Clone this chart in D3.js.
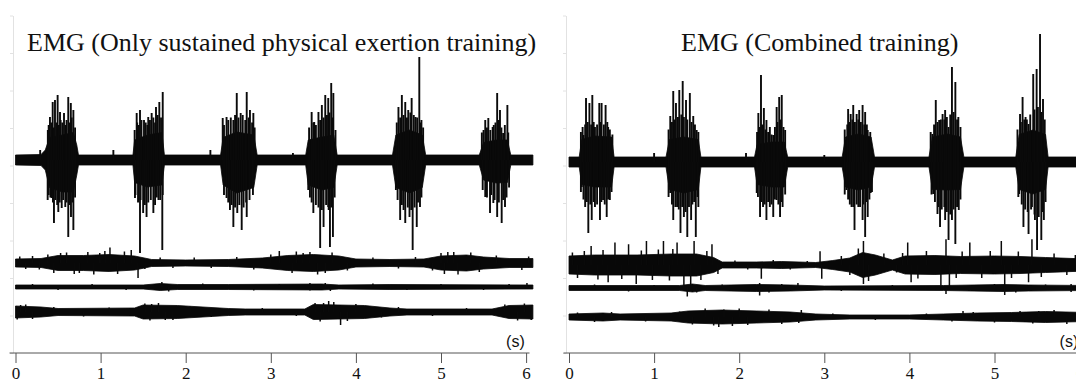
<!DOCTYPE html>
<html>
<head>
<meta charset="utf-8">
<script src="https://cdn.jsdelivr.net/npm/d3@7"></script>
<style>
  body { margin: 0; background: #fff; }
  svg { display: block; }
</style>
</head>
<body>
<svg id="chart" width="1076" height="383"></svg>
<script>
// time axis (s)
const timeTicks = [0, 1, 2, 3, 4, 5, 6];
const titles = ["EMG (Only sustained physical exertion training)", "EMG (Combined training)"];

// channel baselines (uV on the shared amplitude scale)
const leftOffsets = [772, 360, 264, 164];
const rightOffsets = [764, 352, 260, 144];

// ---- left panel ----
// main channel envelope: [t, up, down]
const leftEnv1 = [[0,20,20],[0.3,22,22],[0.35,40,40],[0.40,90,110],[0.55,100,128],[0.68,110,128],[0.72,60,60],[0.74,20,20],
  [1.38,20,20],[1.40,80,90],[1.55,100,108],[1.72,110,100],[1.75,20,20],
  [2.41,20,20],[2.44,90,100],[2.6,112,132],[2.8,100,110],[2.84,20,20],
  [3.41,20,20],[3.44,80,100],[3.6,92,120],[3.74,100,110],[3.78,20,20],
  [4.43,20,20],[4.47,100,110],[4.63,120,132],[4.78,100,110],[4.82,20,20],
  [5.45,20,20],[5.5,70,80],[5.65,80,92],[5.78,80,90],[5.82,20,20],[6.08,20,20]];
// spikes: [t, amplitude] (+ up, - down)
const leftSpikes1 = [[0.29,40],[1.15,40],[2.29,40],[3.26,28],
  [0.405,172],[0.437,232],[0.464,240],[0.495,260],[0.523,192],[0.57,188],[0.62,252],[0.65,228],[0.68,200],
  [0.378,-160],[0.425,-152],[0.452,-252],[0.503,-208],[0.543,-192],[0.585,-188],[0.62,-308],[0.652,-228],[0.68,-280],
  [0.38,120],[0.39,140],[0.42,150],[0.45,130],[0.48,150],[0.51,140],[0.53,160],[0.55,150],[0.59,140],[0.6,160],[0.63,150],[0.66,170],[0.70,130],
  [0.39,-140],[0.41,-150],[0.44,-170],[0.47,-160],[0.49,-180],[0.52,-170],[0.56,-160],[0.6,-170],[0.64,-180],[0.67,-170],[0.7,-150],
  [1.424,188],[1.463,200],[1.51,160],[1.56,172],[1.60,188],[1.651,212],[1.69,232],[1.73,272],
  [1.404,-152],[1.463,-372],[1.50,-212],[1.54,-228],[1.62,-212],[1.68,-160],[1.725,-360],
  [1.40,120],[1.43,150],[1.45,140],[1.48,160],[1.53,150],[1.55,140],[1.58,160],[1.62,170],[1.64,150],[1.67,180],[1.71,170],
  [1.41,-140],[1.44,-170],[1.47,-160],[1.52,-180],[1.56,-170],[1.59,-160],[1.64,-180],[1.66,-150],[1.7,-160],[1.73,-140],
  [2.435,168],[2.48,172],[2.60,268],[2.646,188],[2.717,272],[2.755,200],[2.795,188],
  [2.48,-152],[2.52,-200],[2.56,-268],[2.606,-212],[2.658,-280],[2.717,-228],
  [2.45,140],[2.5,160],[2.53,170],[2.56,160],[2.58,180],[2.62,170],[2.67,180],[2.7,160],[2.74,170],[2.78,150],[2.81,130],
  [2.45,-140],[2.5,-170],[2.54,-180],[2.58,-190],[2.63,-180],[2.68,-190],[2.71,-170],[2.75,-160],[2.79,-140],
  [3.48,192],[3.51,152],[3.56,192],[3.60,220],[3.64,260],[3.675,248],[3.71,308],[3.735,268],
  [3.44,-120],[3.50,-212],[3.58,-352],[3.62,-268],[3.675,-188],[3.695,-348],[3.73,-308],
  [3.45,130],[3.5,150],[3.53,140],[3.58,160],[3.62,170],[3.66,180],[3.69,190],[3.73,170],[3.76,120],
  [3.46,-150],[3.48,-170],[3.53,-180],[3.56,-190],[3.6,-200],[3.65,-180],[3.68,-200],[3.71,-190],[3.75,-150],
  [4.50,212],[4.54,260],[4.58,232],[4.615,200],[4.655,248],[4.70,172],[4.745,412],[4.77,160],
  [4.47,-120],[4.52,-240],[4.58,-252],[4.63,-228],[4.667,-360],[4.715,-268],[4.753,-188],
  [4.48,150],[4.52,170],[4.56,180],[4.6,170],[4.64,190],[4.68,180],[4.72,170],[4.76,150],[4.79,130],
  [4.49,-160],[4.54,-180],[4.56,-200],[4.61,-190],[4.65,-200],[4.69,-190],[4.73,-170],[4.77,-150],
  [5.52,160],[5.556,168],[5.607,132],[5.66,268],[5.693,200],[5.73,108],[5.78,220],
  [5.52,-148],[5.576,-212],[5.615,-172],[5.66,-228],[5.713,-252],[5.752,-188],
  [5.48,110],[5.5,120],[5.54,130],[5.58,120],[5.62,140],[5.64,150],[5.68,160],[5.71,130],[5.75,140],[5.79,110],
  [5.49,-120],[5.54,-150],[5.59,-140],[5.63,-160],[5.68,-170],[5.73,-160],[5.77,-150],[5.8,-110]];
// other channels: envelope [t, half width]
const leftEnv2 = [[0,16],[0.3,18],[0.5,30],[0.8,30],[1.1,34],[1.4,28],[1.6,14],[2.0,12],[2.5,14],[2.9,20],[3.2,30],[3.5,34],
  [3.8,28],[4.0,16],[4.4,14],[4.8,16],[5.0,28],[5.3,32],[5.5,24],[5.8,18],[6.08,18]];
const leftSpikes2 = [[0.53,40],[0.69,-44],[0.99,40],[1.11,62],[1.36,52],[1.44,-60],[3.10,48],[3.38,40],[3.46,44],
  [3.64,-40],[5.0,40],[5.04,-44],[5.08,44],
  [0.05,26],[0.12,-24],[0.2,28],[0.28,-26],[0.38,34],[0.45,-40],[0.6,42],[0.75,-40],[0.85,44],[0.92,-46],[1.05,48],
  [1.2,-44],[1.28,46],[1.52,-24],[1.7,22],[1.85,-20],[2.1,22],[2.3,-20],[2.6,24],[2.8,-26],[3.0,34],[3.25,-40],
  [3.3,46],[3.55,-46],[3.72,42],[3.9,-30],[4.2,22],[4.5,-22],[4.7,24],[4.9,-30],[5.15,44],[5.2,-46],[5.35,42],
  [5.45,-36],[5.65,30],[5.95,-28],[6.03,26]];
const leftEnv3 = [[0,8],[1.5,8],[1.7,14],[1.9,10],[2.5,10],[3.6,12],[3.8,8],[4.4,10],[6.08,8]];
const leftSpikes3 = [[1.72,20],[3.46,16],[3.46,-14],[3.64,16],[6.01,16],
  [0.2,12],[0.5,-12],[0.9,12],[1.3,-12],[1.8,-18],[2.2,14],[2.8,-14],[3.1,12],[3.7,-16],[4.2,14],[4.6,-12],
  [5.0,12],[5.5,-12],[5.8,12]];
const leftEnv4 = [[0,24],[0.3,20],[0.5,14],[1.4,16],[1.5,28],[1.9,26],[2.5,14],[2.7,12],[3.4,12],[3.5,30],[4.1,26],
  [4.4,16],[4.6,12],[5.6,12],[5.8,26],[6.08,28]];
const leftSpikes4 = [[0.06,28],[1.6,32],[1.76,-32],[3.62,36],[3.74,40],[3.82,-52],
  [0.02,-30],[0.12,30],[0.2,-28],[0.45,20],[0.8,-18],[1.1,18],[1.52,34],[1.58,-34],[1.68,36],[1.85,-32],[2.05,22],
  [2.3,-20],[2.9,16],[3.3,-16],[3.52,36],[3.58,-38],[3.68,44],[3.9,-36],[4.0,32],[4.3,-22],[4.5,20],[4.9,-16],
  [5.3,16],[5.75,30],[5.9,-34],[5.98,34],[6.06,-32]];

// ---- right panel ----
const rightEnv1 = [[0,20,20],[0.12,20,20],[0.15,90,90],[0.3,104,100],[0.5,100,100],[0.53,20,20],
  [1.14,20,20],[1.18,90,110],[1.35,100,124],[1.52,90,110],[1.55,20,20],
  [2.18,20,20],[2.21,70,90],[2.38,80,100],[2.53,80,100],[2.57,20,20],
  [3.21,20,20],[3.25,100,100],[3.4,112,112],[3.55,100,100],[3.59,20,20],
  [4.23,20,20],[4.27,100,110],[4.45,112,112],[4.6,100,110],[4.64,20,20],
  [5.25,20,20],[5.29,110,110],[5.45,128,128],[5.6,110,110],[5.63,20,20],[6.08,20,20]];
const rightSpikes1 = [[1.0,36],[2.08,36],[3.0,28],
  [0.17,108],[0.20,256],[0.24,236],[0.274,268],[0.305,140],[0.356,236],[0.383,236],[0.43,228],[0.46,140],[0.49,100],
  [0.15,-100],[0.19,-180],[0.227,-284],[0.267,-232],[0.305,-180],[0.364,-232],[0.40,-152],[0.443,-220],[0.48,-152],
  [0.14,120],[0.16,140],[0.19,150],[0.22,160],[0.26,150],[0.29,160],[0.33,150],[0.37,160],[0.41,150],[0.45,160],[0.48,130],[0.51,110],
  [0.14,-120],[0.17,-150],[0.21,-160],[0.25,-170],[0.29,-160],[0.33,-170],[0.38,-160],[0.42,-170],[0.46,-150],[0.5,-120],
  [1.19,184],[1.225,284],[1.257,236],[1.296,288],[1.336,324],[1.375,248],[1.42,276],[1.46,184],[1.50,128],
  [1.19,-124],[1.225,-232],[1.27,-180],[1.31,-284],[1.35,-220],[1.39,-300],[1.435,-232],[1.49,-300],[1.52,-180],
  [1.17,130],[1.21,160],[1.24,170],[1.28,180],[1.32,190],[1.35,180],[1.39,170],[1.44,160],[1.48,150],[1.52,120],
  [1.17,-140],[1.21,-170],[1.25,-180],[1.29,-190],[1.33,-180],[1.37,-200],[1.41,-180],[1.45,-170],[1.47,-160],[1.51,-140],
  [2.225,196],[2.256,348],[2.29,216],[2.32,168],[2.36,140],[2.40,108],[2.44,220],[2.47,260],[2.50,268],[2.54,128],
  [2.206,-124],[2.245,-220],[2.28,-180],[2.32,-232],[2.36,-180],[2.40,-220],[2.44,-152],[2.48,-220],[2.51,-180],
  [2.21,120],[2.24,140],[2.27,150],[2.31,130],[2.34,120],[2.38,110],[2.42,140],[2.45,160],[2.49,170],[2.52,140],
  [2.22,-140],[2.26,-160],[2.3,-170],[2.34,-160],[2.38,-170],[2.42,-150],[2.46,-170],[2.5,-160],[2.54,-130],
  [3.28,212],[3.31,192],[3.34,228],[3.38,192],[3.41,208],[3.45,228],[3.48,200],[3.51,128],
  [3.26,-112],[3.32,-180],[3.355,-272],[3.40,-180],[3.45,-232],[3.48,-300],[3.51,-220],[3.545,-124],
  [3.24,130],[3.27,150],[3.3,160],[3.33,170],[3.36,160],[3.4,170],[3.43,160],[3.47,150],[3.5,150],[3.54,120],
  [3.24,-130],[3.28,-150],[3.3,-170],[3.34,-180],[3.38,-170],[3.42,-180],[3.46,-170],[3.5,-160],[3.53,-150],[3.56,-120],
  [4.27,112],[4.31,248],[4.35,168],[4.39,192],[4.42,208],[4.46,140],[4.50,380],[4.54,320],[4.575,180],
  [4.28,-128],[4.33,-208],[4.36,-260],[4.42,-232],[4.46,-312],[4.50,-232],[4.54,-328],[4.58,-192],
  [4.25,120],[4.29,150],[4.33,160],[4.37,170],[4.41,170],[4.44,180],[4.48,190],[4.52,200],[4.56,170],[4.6,140],
  [4.26,-130],[4.3,-160],[4.34,-180],[4.38,-190],[4.41,-180],[4.44,-200],[4.48,-210],[4.52,-190],[4.56,-180],[4.6,-150],
  [5.30,192],[5.33,260],[5.365,180],[5.40,152],[5.455,352],[5.495,372],[5.535,512],[5.57,252],
  [5.29,-128],[5.34,-260],[5.40,-288],[5.44,-180],[5.475,-232],[5.50,-352],[5.55,-312],[5.58,-232],
  [5.27,130],[5.31,160],[5.35,170],[5.38,170],[5.42,190],[5.47,210],[5.51,220],[5.55,200],[5.59,170],
  [5.28,-140],[5.32,-170],[5.36,-190],[5.39,-200],[5.43,-190],[5.47,-210],[5.52,-220],[5.56,-200],[5.6,-160]];
const rightEnv2 = [[0,36],[0.3,40],[0.8,40],[1.2,44],[1.5,44],[1.7,30],[1.8,12],[2.2,12],[2.5,14],[2.9,10],[3.1,18],
  [3.3,28],[3.45,50],[3.6,40],[3.8,20],[3.95,36],[4.3,38],[4.6,34],[5.0,36],[5.3,34],[5.6,30],[6.08,24]];
const rightSpikes2 = [[0.26,76],[0.54,90],[0.70,83],[0.91,96],[1.11,96],[1.27,90],[1.47,96],[1.68,83],[2.95,55],
  [3.46,96],[3.98,90],[4.43,103],[4.71,90],[5.08,96],[5.44,103],
  [0.46,-69],[0.79,-76],[1.35,-83],[1.43,-90],[2.26,-55],[2.97,-55],[3.46,-76],[4.02,-69],[4.37,-83],[4.47,-90],
  [5.12,-96],[5.4,-69],
  [0.04,50],[0.1,-52],[0.18,56],[0.34,-58],[0.4,60],[0.62,-56],[0.85,58],[0.98,-60],[1.05,62],[1.18,-62],[1.22,64],
  [1.55,-60],[1.62,56],[1.75,-36],[1.95,18],[2.1,-18],[2.4,20],[2.6,-18],[2.8,16],[3.2,36],[3.3,-40],[3.4,66],
  [3.52,-64],[3.7,46],[3.85,-30],[3.92,48],[4.1,-54],[4.2,56],[4.55,-52],[4.62,54],[4.85,-52],[4.95,56],[5.2,-52],
  [5.28,54],[5.55,-48],[5.7,46],[5.85,-40],[5.95,40]];
const rightEnv3 = [[0,10],[1.3,10],[1.45,16],[1.6,10],[2.2,14],[2.6,12],[3.0,8],[4.4,10],[5.1,14],[5.4,12],[6.08,10]];
const rightSpikes3 = [[1.39,-34],[2.24,-30],[2.24,20],[2.69,20],[4.43,-24],[5.12,-28],[5.9,16],[5.9,-16],
  [0.3,14],[0.7,-14],[1.0,12],[1.5,-18],[1.8,14],[2.35,-18],[2.5,16],[3.2,-12],[3.8,12],[4.7,-12],[5.0,16],
  [5.25,-18],[5.6,14]];
const rightEnv4 = [[0,12],[0.4,16],[0.6,12],[1.2,16],[1.4,24],[1.8,28],[2.2,24],[2.6,20],[2.9,12],[3.3,8],[4.0,8],
  [4.4,12],[4.8,16],[5.2,18],[5.6,22],[6.08,18]];
const rightSpikes4 = [[1.76,-40],[1.82,30],[1.92,-36],[2.73,28],[4.63,24],[5.52,24],
  [0.1,18],[0.3,-20],[0.5,20],[0.9,-18],[1.3,22],[1.45,-30],[1.6,34],[1.7,-34],[2.0,34],[2.1,-32],[2.35,30],
  [2.5,-28],[2.7,-24],[3.1,14],[3.6,-12],[4.2,14],[4.5,-18],[4.75,20],[5.0,-22],[5.3,24],[5.45,-26],[5.7,28],
  [5.85,-28],[6.0,24]];

const panels = [
  { x0: 15.5, title: titles[0], titleX: 27, offsets: leftOffsets,
    env: [leftEnv1, leftEnv2, leftEnv3, leftEnv4], spikes: [leftSpikes1, leftSpikes2, leftSpikes3, leftSpikes4],
    axisFrom: -0.07, axisTo: 6.04, faintX: 13 },
  { x0: 569, title: titles[1], titleX: 681, offsets: rightOffsets,
    env: [rightEnv1, rightEnv2, rightEnv3, rightEnv4], spikes: [rightSpikes1, rightSpikes2, rightSpikes3, rightSpikes4],
    axisFrom: -0.065, axisTo: 6.2, faintX: 566 }
];

var svg = d3.select("#chart");
var axisY = 353;
var pxPerSec = 85.1;
var serif = "'Liberation Serif', 'Times New Roman', serif";

var y = d3.scaleLinear().domain([0, 1350]).range([axisY, 15.5]);

panels.forEach(p => {
  var x = d3.scaleLinear().domain([0, 6]).range([p.x0, p.x0 + 6 * pxPerSec]);
  var g = svg.append("g");

  // faint amplitude axis
  g.append("g")
    .attr("transform", "translate(" + p.faintX + ",0)")
    .call(d3.axisLeft(y).tickValues(d3.range(0, 1351, 150)).tickSize(3).tickSizeOuter(0).tickFormat(""))
    .call(a => a.selectAll("path,line").attr("stroke", "#e2e2e2"));

  // traces
  p.env.forEach((env, i) => {
    var off = p.offsets[i];
    var rows = env.map(d => d.length === 3 ? d : [d[0], d[1], d[1]]);
    var area = d3.area()
      .x(d => x(d[0]))
      .y0(d => y(off - d[2]))
      .y1(d => y(off + d[1]));
    g.append("path")
      .datum(rows)
      .attr("d", area)
      .attr("fill", "#080808")
      .attr("stroke", "#080808")
      .attr("stroke-width", 0.8);

    g.selectAll(".spk" + i)
      .data(p.spikes[i])
      .enter().append("line")
      .attr("x1", d => x(d[0]))
      .attr("x2", d => x(d[0]))
      .attr("y1", y(off))
      .attr("y2", d => y(off + d[1]))
      .attr("stroke", "#0a0a0a")
      .attr("stroke-width", i === 0 ? 1.9 : 1.5);
  });

  // time axis
  var ax = g.append("g")
    .attr("transform", "translate(0," + axisY + ")")
    .call(d3.axisBottom(x).tickValues(timeTicks).tickFormat(d3.format("d")).tickSize(10).tickSizeOuter(0))
    .attr("font-family", serif)
    .attr("font-size", 17);
  ax.select(".domain").remove();
  ax.append("line")
    .attr("x1", x(p.axisFrom)).attr("x2", x(p.axisTo))
    .attr("stroke", "#555");
  ax.selectAll("line").attr("stroke", "#555");
  ax.selectAll("text")
    .attr("dy", null)
    .attr("y", 25.5)
    .attr("fill", "#111");

  g.append("text")
    .attr("x", x(6) - 20)
    .attr("y", axisY - 6)
    .attr("font-family", "'Liberation Sans', Arial, sans-serif")
    .attr("font-size", 16)
    .attr("fill", "#111")
    .text("(s)");

  g.append("text")
    .attr("x", p.titleX)
    .attr("y", 51)
    .attr("font-family", serif)
    .attr("font-size", 26)
    .attr("fill", "#111")
    .text(p.title);
});
</script>
</body>
</html>
